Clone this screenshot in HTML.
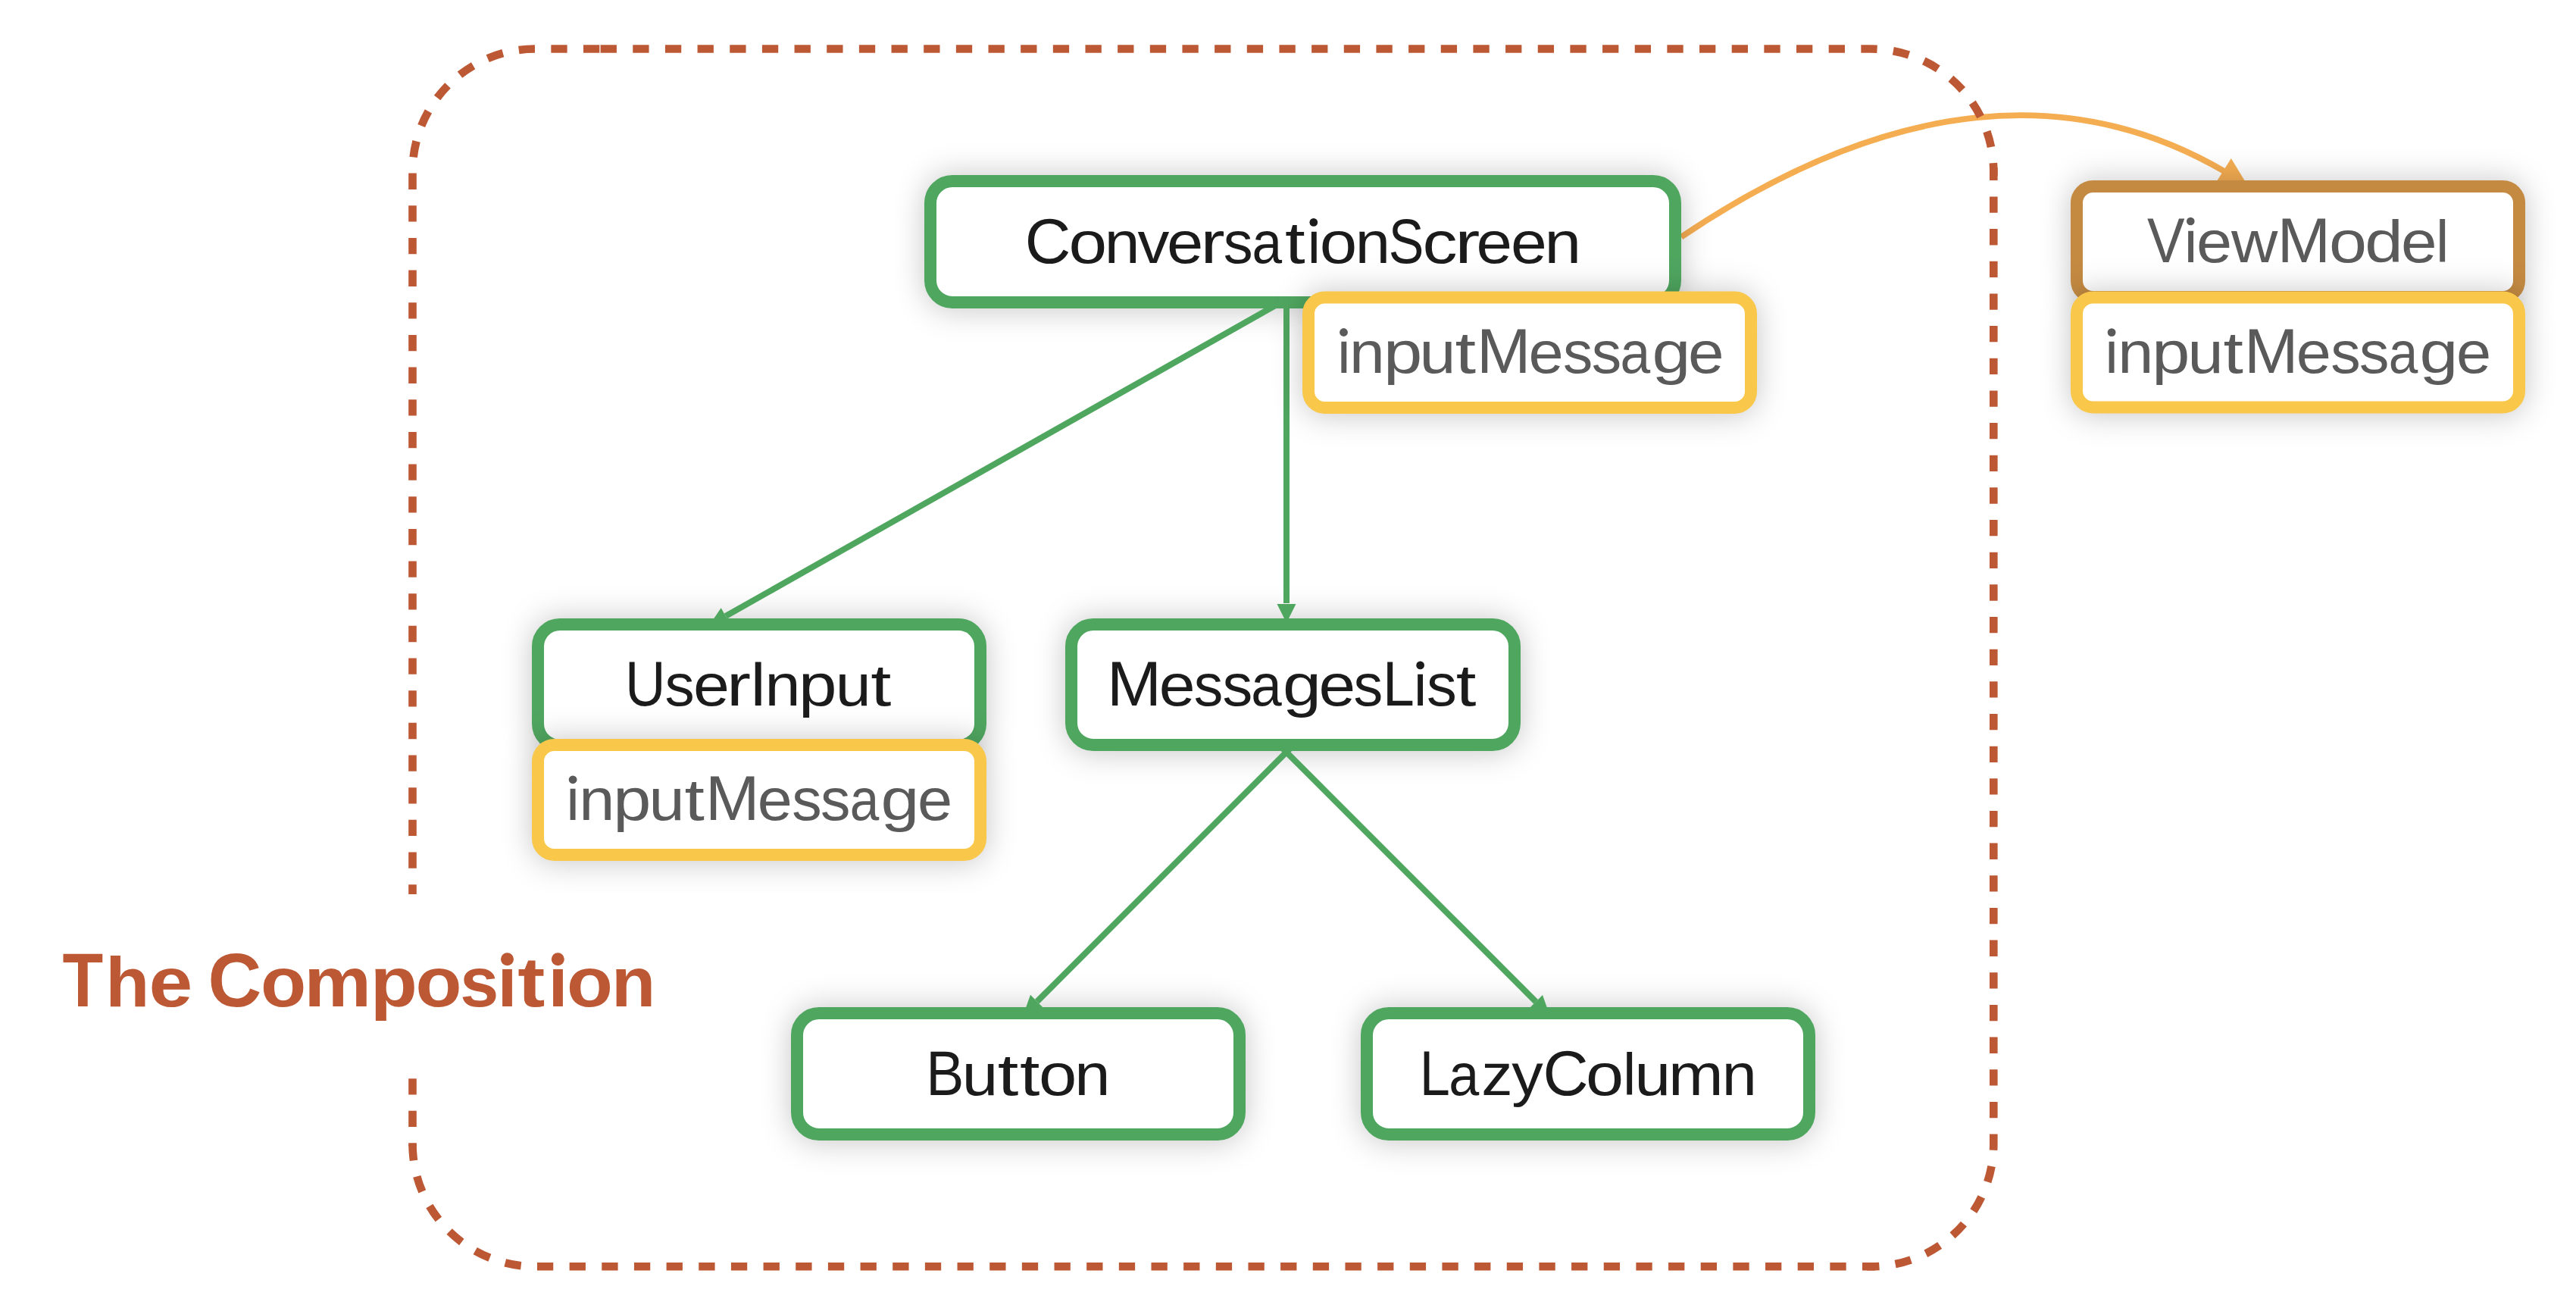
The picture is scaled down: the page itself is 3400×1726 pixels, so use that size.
<!DOCTYPE html>
<html><head><meta charset="utf-8"><title>The Composition</title>
<style>
html,body{margin:0;padding:0;background:#fff;}
body{width:3400px;height:1726px;overflow:hidden;position:relative;}
svg{position:absolute;left:0;top:0;display:block;}
text{font-family:"Liberation Sans",sans-serif;}
</style></head><body>
<svg width="3400" height="1726" viewBox="0 0 3400 1726">
<defs>
<filter id="sh" x="-20%" y="-60%" width="140%" height="220%">
<feGaussianBlur in="SourceAlpha" stdDeviation="19 21"/>
<feOffset dx="0" dy="1" result="b"/>
<feFlood flood-color="#000" flood-opacity="0.22"/>
<feComposite in2="b" operator="in"/>
</filter>
</defs>

<path d="M2219,312.7 C2501.1,122.6 2739.9,111.5 2936,226.2" fill="none" stroke="#F5AD52" stroke-width="7.8"/>
<polygon points="2944.8,209.1 2925.7,239.6 2965.8,243.4" fill="#F5AD52"/>
<path d="M792.6,64.5 L2469.3,64.5 A162,162 0 0 1 2631.3,226.5" fill="none" stroke="#BD5834" stroke-width="10.6" stroke-dasharray="21.3 21.36" stroke-dashoffset="0.00"/>
<path d="M2631.3,226.5 L2631.3,1509.3 A162,162 0 0 1 2469.3,1671.3" fill="none" stroke="#BD5834" stroke-width="10.6" stroke-dasharray="21.3 21.36" stroke-dashoffset="9.74"/>
<path d="M2469.3,1671.3 L706.5,1671.3 A162,162 0 0 1 544.5,1509.3" fill="none" stroke="#BD5834" stroke-width="10.6" stroke-dasharray="21.3 21.36" stroke-dashoffset="10.02"/>
<path d="M544.5,1509.3 L544.5,226.5 A162,162 0 0 1 706.5,64.5 L792.6,64.5" fill="none" stroke="#BD5834" stroke-width="10.6" stroke-dasharray="21.3 21.36" stroke-dashoffset="20.42"/>
<path d="M2631.3,221 L2631.3,232 M2464,1671.3 L2475,1671.3 M544.5,1508.6 L544.5,1512.5" fill="none" stroke="#BD5834" stroke-width="10.6"/>
<rect x="530" y="1180" width="30" height="243.3" fill="#fff"/>
<rect x="1219.0" y="230.0" width="1001.0" height="178.0" rx="38.0" fill="#fff" filter="url(#sh)"/>
<rect x="701.0" y="815.0" width="602.0" height="178.0" rx="38.0" fill="#fff" filter="url(#sh)"/>
<rect x="1405.0" y="815.0" width="603.0" height="177.0" rx="38.0" fill="#fff" filter="url(#sh)"/>
<rect x="1043.0" y="1328.0" width="602.0" height="178.0" rx="38.0" fill="#fff" filter="url(#sh)"/>
<rect x="1795.0" y="1328.0" width="602.0" height="178.0" rx="38.0" fill="#fff" filter="url(#sh)"/>
<line x1="1698" y1="395" x2="1698" y2="796" stroke="#4FA65F" stroke-width="8"/>
<polygon points="1685.5,797 1710.5,797 1698,822" fill="#4FA65F"/>
<line x1="1698" y1="394.8" x2="957.8" y2="813" stroke="#4FA65F" stroke-width="8"/>
<polygon points="951.7,802.2 963.9,823.8 936.0,825.3" fill="#4FA65F"/>
<line x1="1708" y1="982.4" x2="1368.8" y2="1321.6" stroke="#4FA65F" stroke-width="8"/>
<polygon points="1360.0,1312.8 1377.6,1330.4 1350.4,1340.0" fill="#4FA65F"/>
<line x1="1688" y1="982.6" x2="2027.2" y2="1321.8" stroke="#4FA65F" stroke-width="8"/>
<polygon points="2018.4,1330.6 2036.0,1313.0 2045.6,1340.2" fill="#4FA65F"/>
<rect x="1228.0" y="239.0" width="983" height="160" rx="29" fill="#fff" stroke="#4FA65F" stroke-width="16" />
<rect x="710.0" y="824.0" width="584" height="160" rx="29" fill="#fff" stroke="#4FA65F" stroke-width="16" />
<rect x="1414.0" y="824.0" width="585" height="159" rx="29" fill="#fff" stroke="#4FA65F" stroke-width="16" />
<rect x="1052.0" y="1337.0" width="584" height="160" rx="29" fill="#fff" stroke="#4FA65F" stroke-width="16" />
<rect x="1804.0" y="1337.0" width="584" height="160" rx="29" fill="#fff" stroke="#4FA65F" stroke-width="16" />
<rect x="2732.0" y="237.0" width="602.0" height="164.0" rx="30.5" fill="#fff" filter="url(#sh)"/>
<rect x="2741.0" y="246.0" width="584" height="146" rx="21.5" fill="#fff" stroke="#C48A42" stroke-width="16" />
<rect x="1718.0" y="383.5" width="602.0" height="163.5" rx="30.5" fill="#fff" filter="url(#sh)"/>
<rect x="1727.0" y="392.5" width="584" height="145.5" rx="21.5" fill="#fff" stroke="#F9C84B" stroke-width="16" />
<rect x="701.0" y="974.0" width="602.0" height="163.0" rx="30.5" fill="#fff" filter="url(#sh)"/>
<rect x="710.0" y="983.0" width="584" height="145" rx="21.5" fill="#fff" stroke="#F9C84B" stroke-width="16" />
<rect x="2732.0" y="383.5" width="602.0" height="163.0" rx="30.5" fill="#fff" filter="url(#sh)"/>
<rect x="2741.0" y="392.5" width="584" height="145.0" rx="21.5" fill="#fff" stroke="#F9C84B" stroke-width="16" />
<text x="1352.70" y="346.85" fill="#1B1B1B" font-weight="400" font-size="84.0" textLength="60.61" lengthAdjust="spacingAndGlyphs">C</text>
<text x="1410.40" y="346.85" fill="#1B1B1B" font-weight="400" font-size="78.0" textLength="50.59" lengthAdjust="spacingAndGlyphs">o</text>
<text x="1457.70" y="346.85" fill="#1B1B1B" font-weight="400" font-size="78.0" textLength="46.69" lengthAdjust="spacingAndGlyphs">n</text>
<text x="1501.40" y="346.85" fill="#1B1B1B" font-weight="400" font-size="78.0" textLength="41.89" lengthAdjust="spacingAndGlyphs">v</text>
<text x="1540.00" y="346.85" fill="#1B1B1B" font-weight="400" font-size="78.0" textLength="48.27" lengthAdjust="spacingAndGlyphs">e</text>
<text x="1584.40" y="346.85" fill="#1B1B1B" font-weight="400" font-size="78.0" textLength="32.17" lengthAdjust="spacingAndGlyphs">r</text>
<text x="1614.70" y="346.85" fill="#1B1B1B" font-weight="400" font-size="78.0" textLength="38.95" lengthAdjust="spacingAndGlyphs">s</text>
<text x="1652.60" y="346.85" fill="#1B1B1B" font-weight="400" font-size="78.0" textLength="39.62" lengthAdjust="spacingAndGlyphs">a</text>
<text x="1696.00" y="346.85" fill="#1B1B1B" font-weight="400" font-size="78.0" textLength="26.66" lengthAdjust="spacingAndGlyphs">t</text>
<text x="1723.40" y="346.85" fill="#1B1B1B" font-weight="400" font-size="78.0">ı</text>
<circle cx="1733.8" cy="293.4" r="5.35" fill="#1B1B1B"/>
<text x="1741.70" y="346.85" fill="#1B1B1B" font-weight="400" font-size="78.0" textLength="49.48" lengthAdjust="spacingAndGlyphs">o</text>
<text x="1788.70" y="346.85" fill="#1B1B1B" font-weight="400" font-size="78.0" textLength="46.22" lengthAdjust="spacingAndGlyphs">n</text>
<text x="1832.70" y="346.85" fill="#1B1B1B" font-weight="400" font-size="84.0" textLength="46.63" lengthAdjust="spacingAndGlyphs">S</text>
<text x="1877.50" y="346.85" fill="#1B1B1B" font-weight="400" font-size="78.0" textLength="46.05" lengthAdjust="spacingAndGlyphs">c</text>
<text x="1920.30" y="346.85" fill="#1B1B1B" font-weight="400" font-size="78.0" textLength="33.06" lengthAdjust="spacingAndGlyphs">r</text>
<text x="1948.40" y="346.85" fill="#1B1B1B" font-weight="400" font-size="78.0" textLength="47.46" lengthAdjust="spacingAndGlyphs">e</text>
<text x="1994.00" y="346.85" fill="#1B1B1B" font-weight="400" font-size="78.0" textLength="47.80" lengthAdjust="spacingAndGlyphs">e</text>
<text x="2038.60" y="346.85" fill="#1B1B1B" font-weight="400" font-size="78.0" textLength="48.54" lengthAdjust="spacingAndGlyphs">n</text>
<text x="1763.10" y="491.9" fill="#5A5A5A" font-weight="400" font-size="78.0">ı</text>
<circle cx="1773.5" cy="438.5" r="5.4" fill="#5A5A5A"/>
<text x="1781.00" y="491.9" fill="#5A5A5A" font-weight="400" font-size="78.0" textLength="46.73" lengthAdjust="spacingAndGlyphs">n</text>
<text x="1826.00" y="491.9" fill="#5A5A5A" font-weight="400" font-size="78.0" textLength="51.33" lengthAdjust="spacingAndGlyphs">p</text>
<text x="1873.40" y="491.9" fill="#5A5A5A" font-weight="400" font-size="78.0" textLength="48.02" lengthAdjust="spacingAndGlyphs">u</text>
<text x="1920.40" y="491.9" fill="#5A5A5A" font-weight="400" font-size="78.0" textLength="27.58" lengthAdjust="spacingAndGlyphs">t</text>
<text x="1948.90" y="491.9" fill="#5A5A5A" font-weight="400" font-size="84.0" textLength="71.52" lengthAdjust="spacingAndGlyphs">M</text>
<text x="2017.60" y="491.9" fill="#5A5A5A" font-weight="400" font-size="78.0" textLength="46.23" lengthAdjust="spacingAndGlyphs">e</text>
<text x="2063.10" y="491.9" fill="#5A5A5A" font-weight="400" font-size="78.0" textLength="39.25" lengthAdjust="spacingAndGlyphs">s</text>
<text x="2100.70" y="491.9" fill="#5A5A5A" font-weight="400" font-size="78.0" textLength="39.41" lengthAdjust="spacingAndGlyphs">s</text>
<text x="2138.60" y="491.9" fill="#5A5A5A" font-weight="400" font-size="78.0" textLength="39.72" lengthAdjust="spacingAndGlyphs">a</text>
<text x="2180.40" y="491.9" fill="#5A5A5A" font-weight="400" font-size="78.0" textLength="50.87" lengthAdjust="spacingAndGlyphs">g</text>
<text x="2227.90" y="491.9" fill="#5A5A5A" font-weight="400" font-size="78.0" textLength="47.57" lengthAdjust="spacingAndGlyphs">e</text>
<text x="2834.10" y="345.6" fill="#5A5A5A" font-weight="400" font-size="84.0" textLength="49.55" lengthAdjust="spacingAndGlyphs">V</text>
<text x="2880.80" y="345.6" fill="#5A5A5A" font-weight="400" font-size="78.0">ı</text>
<circle cx="2891.3" cy="292.0" r="5.3" fill="#5A5A5A"/>
<text x="2899.10" y="345.6" fill="#5A5A5A" font-weight="400" font-size="78.0" textLength="47.09" lengthAdjust="spacingAndGlyphs">e</text>
<text x="2944.90" y="345.6" fill="#5A5A5A" font-weight="400" font-size="78.0" textLength="61.41" lengthAdjust="spacingAndGlyphs">w</text>
<text x="3005.80" y="345.6" fill="#5A5A5A" font-weight="400" font-size="84.0" textLength="70.29" lengthAdjust="spacingAndGlyphs">M</text>
<text x="3074.10" y="345.6" fill="#5A5A5A" font-weight="400" font-size="78.0" textLength="49.95" lengthAdjust="spacingAndGlyphs">o</text>
<text x="3121.30" y="345.6" fill="#5A5A5A" font-weight="400" font-size="78.0" textLength="50.49" lengthAdjust="spacingAndGlyphs">d</text>
<text x="3169.00" y="345.6" fill="#5A5A5A" font-weight="400" font-size="78.0" textLength="47.54" lengthAdjust="spacingAndGlyphs">e</text>
<text x="3215.10" y="345.6" fill="#5A5A5A" font-weight="400" font-size="78.0">l</text>
<text x="2776.30" y="492.0" fill="#5A5A5A" font-weight="400" font-size="78.0">ı</text>
<circle cx="2787.1" cy="438.6" r="5.4" fill="#5A5A5A"/>
<text x="2795.20" y="492.0" fill="#5A5A5A" font-weight="400" font-size="78.0" textLength="47.11" lengthAdjust="spacingAndGlyphs">n</text>
<text x="2840.20" y="492.0" fill="#5A5A5A" font-weight="400" font-size="78.0" textLength="50.11" lengthAdjust="spacingAndGlyphs">p</text>
<text x="2887.60" y="492.0" fill="#5A5A5A" font-weight="400" font-size="78.0" textLength="47.11" lengthAdjust="spacingAndGlyphs">u</text>
<text x="2934.60" y="492.0" fill="#5A5A5A" font-weight="400" font-size="78.0" textLength="26.34" lengthAdjust="spacingAndGlyphs">t</text>
<text x="2962.10" y="492.0" fill="#5A5A5A" font-weight="400" font-size="84.0" textLength="71.52" lengthAdjust="spacingAndGlyphs">M</text>
<text x="3030.80" y="492.0" fill="#5A5A5A" font-weight="400" font-size="78.0" textLength="46.05" lengthAdjust="spacingAndGlyphs">e</text>
<text x="3076.30" y="492.0" fill="#5A5A5A" font-weight="400" font-size="78.0" textLength="39.41" lengthAdjust="spacingAndGlyphs">s</text>
<text x="3113.90" y="492.0" fill="#5A5A5A" font-weight="400" font-size="78.0" textLength="39.41" lengthAdjust="spacingAndGlyphs">s</text>
<text x="3152.80" y="492.0" fill="#5A5A5A" font-weight="400" font-size="78.0" textLength="38.58" lengthAdjust="spacingAndGlyphs">a</text>
<text x="3193.60" y="492.0" fill="#5A5A5A" font-weight="400" font-size="78.0" textLength="50.84" lengthAdjust="spacingAndGlyphs">g</text>
<text x="3242.10" y="492.0" fill="#5A5A5A" font-weight="400" font-size="78.0" textLength="46.14" lengthAdjust="spacingAndGlyphs">e</text>
<text x="825.10" y="931.3" fill="#1B1B1B" font-weight="400" font-size="84.0" textLength="53.53" lengthAdjust="spacingAndGlyphs">U</text>
<text x="877.60" y="931.3" fill="#1B1B1B" font-weight="400" font-size="78.0" textLength="39.19" lengthAdjust="spacingAndGlyphs">s</text>
<text x="914.90" y="931.3" fill="#1B1B1B" font-weight="400" font-size="78.0" textLength="47.89" lengthAdjust="spacingAndGlyphs">e</text>
<text x="958.90" y="931.3" fill="#1B1B1B" font-weight="400" font-size="78.0" textLength="32.00" lengthAdjust="spacingAndGlyphs">r</text>
<text x="989.10" y="931.3" fill="#1B1B1B" font-weight="400" font-size="84.0">I</text>
<text x="1009.50" y="931.3" fill="#1B1B1B" font-weight="400" font-size="78.0" textLength="47.00" lengthAdjust="spacingAndGlyphs">n</text>
<text x="1054.10" y="931.3" fill="#1B1B1B" font-weight="400" font-size="78.0" textLength="50.49" lengthAdjust="spacingAndGlyphs">p</text>
<text x="1102.70" y="931.3" fill="#1B1B1B" font-weight="400" font-size="78.0" textLength="46.96" lengthAdjust="spacingAndGlyphs">u</text>
<text x="1149.20" y="931.3" fill="#1B1B1B" font-weight="400" font-size="78.0" textLength="27.10" lengthAdjust="spacingAndGlyphs">t</text>
<text x="745.30" y="1082.0" fill="#5A5A5A" font-weight="400" font-size="78.0">ı</text>
<circle cx="756.1" cy="1028.8" r="5.4" fill="#5A5A5A"/>
<text x="764.20" y="1082.0" fill="#5A5A5A" font-weight="400" font-size="78.0" textLength="47.11" lengthAdjust="spacingAndGlyphs">n</text>
<text x="809.20" y="1082.0" fill="#5A5A5A" font-weight="400" font-size="78.0" textLength="50.11" lengthAdjust="spacingAndGlyphs">p</text>
<text x="856.60" y="1082.0" fill="#5A5A5A" font-weight="400" font-size="78.0" textLength="47.11" lengthAdjust="spacingAndGlyphs">u</text>
<text x="903.60" y="1082.0" fill="#5A5A5A" font-weight="400" font-size="78.0" textLength="26.34" lengthAdjust="spacingAndGlyphs">t</text>
<text x="931.10" y="1082.0" fill="#5A5A5A" font-weight="400" font-size="84.0" textLength="71.52" lengthAdjust="spacingAndGlyphs">M</text>
<text x="999.80" y="1082.0" fill="#5A5A5A" font-weight="400" font-size="78.0" textLength="46.05" lengthAdjust="spacingAndGlyphs">e</text>
<text x="1045.30" y="1082.0" fill="#5A5A5A" font-weight="400" font-size="78.0" textLength="39.41" lengthAdjust="spacingAndGlyphs">s</text>
<text x="1082.90" y="1082.0" fill="#5A5A5A" font-weight="400" font-size="78.0" textLength="39.41" lengthAdjust="spacingAndGlyphs">s</text>
<text x="1121.80" y="1082.0" fill="#5A5A5A" font-weight="400" font-size="78.0" textLength="38.58" lengthAdjust="spacingAndGlyphs">a</text>
<text x="1162.60" y="1082.0" fill="#5A5A5A" font-weight="400" font-size="78.0" textLength="50.84" lengthAdjust="spacingAndGlyphs">g</text>
<text x="1211.10" y="1082.0" fill="#5A5A5A" font-weight="400" font-size="78.0" textLength="46.14" lengthAdjust="spacingAndGlyphs">e</text>
<text x="1461.10" y="931.2" fill="#1B1B1B" font-weight="400" font-size="84.0" textLength="72.01" lengthAdjust="spacingAndGlyphs">M</text>
<text x="1529.80" y="931.2" fill="#1B1B1B" font-weight="400" font-size="78.0" textLength="47.82" lengthAdjust="spacingAndGlyphs">e</text>
<text x="1575.70" y="931.2" fill="#1B1B1B" font-weight="400" font-size="78.0" textLength="38.60" lengthAdjust="spacingAndGlyphs">s</text>
<text x="1613.60" y="931.2" fill="#1B1B1B" font-weight="400" font-size="78.0" textLength="39.81" lengthAdjust="spacingAndGlyphs">s</text>
<text x="1651.20" y="931.2" fill="#1B1B1B" font-weight="400" font-size="78.0" textLength="40.51" lengthAdjust="spacingAndGlyphs">a</text>
<text x="1692.90" y="931.2" fill="#1B1B1B" font-weight="400" font-size="78.0" textLength="50.94" lengthAdjust="spacingAndGlyphs">g</text>
<text x="1740.40" y="931.2" fill="#1B1B1B" font-weight="400" font-size="78.0" textLength="48.65" lengthAdjust="spacingAndGlyphs">e</text>
<text x="1786.40" y="931.2" fill="#1B1B1B" font-weight="400" font-size="78.0" textLength="38.76" lengthAdjust="spacingAndGlyphs">s</text>
<text x="1825.00" y="931.2" fill="#1B1B1B" font-weight="400" font-size="84.0" textLength="41.78" lengthAdjust="spacingAndGlyphs">L</text>
<text x="1863.80" y="931.2" fill="#1B1B1B" font-weight="400" font-size="78.0">ı</text>
<circle cx="1874.6" cy="877.9" r="5.35" fill="#1B1B1B"/>
<text x="1883.10" y="931.2" fill="#1B1B1B" font-weight="400" font-size="78.0" textLength="39.81" lengthAdjust="spacingAndGlyphs">s</text>
<text x="1921.70" y="931.2" fill="#1B1B1B" font-weight="400" font-size="78.0" textLength="26.66" lengthAdjust="spacingAndGlyphs">t</text>
<text x="1222.30" y="1444.6" fill="#1B1B1B" font-weight="400" font-size="84.0" textLength="50.10" lengthAdjust="spacingAndGlyphs">B</text>
<text x="1269.80" y="1444.6" fill="#1B1B1B" font-weight="400" font-size="78.0" textLength="47.48" lengthAdjust="spacingAndGlyphs">u</text>
<text x="1316.70" y="1444.6" fill="#1B1B1B" font-weight="400" font-size="78.0" textLength="27.57" lengthAdjust="spacingAndGlyphs">t</text>
<text x="1346.00" y="1444.6" fill="#1B1B1B" font-weight="400" font-size="78.0" textLength="26.42" lengthAdjust="spacingAndGlyphs">t</text>
<text x="1371.00" y="1444.6" fill="#1B1B1B" font-weight="400" font-size="78.0" textLength="50.34" lengthAdjust="spacingAndGlyphs">o</text>
<text x="1418.30" y="1444.6" fill="#1B1B1B" font-weight="400" font-size="78.0" textLength="47.19" lengthAdjust="spacingAndGlyphs">n</text>
<text x="1873.70" y="1444.7" fill="#1B1B1B" font-weight="400" font-size="84.0" textLength="40.11" lengthAdjust="spacingAndGlyphs">L</text>
<text x="1912.30" y="1444.7" fill="#1B1B1B" font-weight="400" font-size="78.0" textLength="40.04" lengthAdjust="spacingAndGlyphs">a</text>
<text x="1955.30" y="1444.7" fill="#1B1B1B" font-weight="400" font-size="78.0" textLength="41.34" lengthAdjust="spacingAndGlyphs">z</text>
<text x="1995.30" y="1444.7" fill="#1B1B1B" font-weight="400" font-size="78.0" textLength="41.45" lengthAdjust="spacingAndGlyphs">y</text>
<text x="2036.50" y="1444.7" fill="#1B1B1B" font-weight="400" font-size="84.0" textLength="60.07" lengthAdjust="spacingAndGlyphs">C</text>
<text x="2093.00" y="1444.7" fill="#1B1B1B" font-weight="400" font-size="78.0" textLength="50.07" lengthAdjust="spacingAndGlyphs">o</text>
<text x="2142.10" y="1444.7" fill="#1B1B1B" font-weight="400" font-size="78.0">l</text>
<text x="2157.60" y="1444.7" fill="#1B1B1B" font-weight="400" font-size="78.0" textLength="47.62" lengthAdjust="spacingAndGlyphs">u</text>
<text x="2202.00" y="1444.7" fill="#1B1B1B" font-weight="400" font-size="78.0" textLength="72.74" lengthAdjust="spacingAndGlyphs">m</text>
<text x="2272.80" y="1444.7" fill="#1B1B1B" font-weight="400" font-size="78.0" textLength="46.05" lengthAdjust="spacingAndGlyphs">n</text>
<text x="82.50" y="1328.2" fill="#BD5834" font-weight="700" font-size="100.1" textLength="53.69" lengthAdjust="spacingAndGlyphs">T</text>
<text x="139.20" y="1328.2" fill="#BD5834" font-weight="700" font-size="93.3" textLength="58.04" lengthAdjust="spacingAndGlyphs">h</text>
<text x="196.50" y="1328.2" fill="#BD5834" font-weight="700" font-size="93.3" textLength="57.71" lengthAdjust="spacingAndGlyphs">e</text>
<text x="274.40" y="1328.2" fill="#BD5834" font-weight="700" font-size="100.1" textLength="70.74" lengthAdjust="spacingAndGlyphs">C</text>
<text x="343.90" y="1328.2" fill="#BD5834" font-weight="700" font-size="93.3" textLength="60.18" lengthAdjust="spacingAndGlyphs">o</text>
<text x="401.40" y="1328.2" fill="#BD5834" font-weight="700" font-size="93.3" textLength="88.40" lengthAdjust="spacingAndGlyphs">m</text>
<text x="488.70" y="1328.2" fill="#BD5834" font-weight="700" font-size="93.3" textLength="62.19" lengthAdjust="spacingAndGlyphs">p</text>
<text x="548.60" y="1328.2" fill="#BD5834" font-weight="700" font-size="93.3" textLength="61.02" lengthAdjust="spacingAndGlyphs">o</text>
<text x="607.30" y="1328.2" fill="#BD5834" font-weight="700" font-size="93.3" textLength="51.04" lengthAdjust="spacingAndGlyphs">s</text>
<text x="656.50" y="1328.2" fill="#BD5834" font-weight="700" font-size="93.3">ı</text>
<circle cx="669.5" cy="1265.7" r="8.5" fill="#BD5834"/>
<text x="683.30" y="1328.2" fill="#BD5834" font-weight="700" font-size="93.3" textLength="36.11" lengthAdjust="spacingAndGlyphs">t</text>
<text x="723.40" y="1328.2" fill="#BD5834" font-weight="700" font-size="93.3">ı</text>
<circle cx="736.3" cy="1265.7" r="8.5" fill="#BD5834"/>
<text x="748.00" y="1328.2" fill="#BD5834" font-weight="700" font-size="93.3" textLength="60.92" lengthAdjust="spacingAndGlyphs">o</text>
<text x="807.00" y="1328.2" fill="#BD5834" font-weight="700" font-size="93.3" textLength="58.28" lengthAdjust="spacingAndGlyphs">n</text>
</svg>
</body></html>
